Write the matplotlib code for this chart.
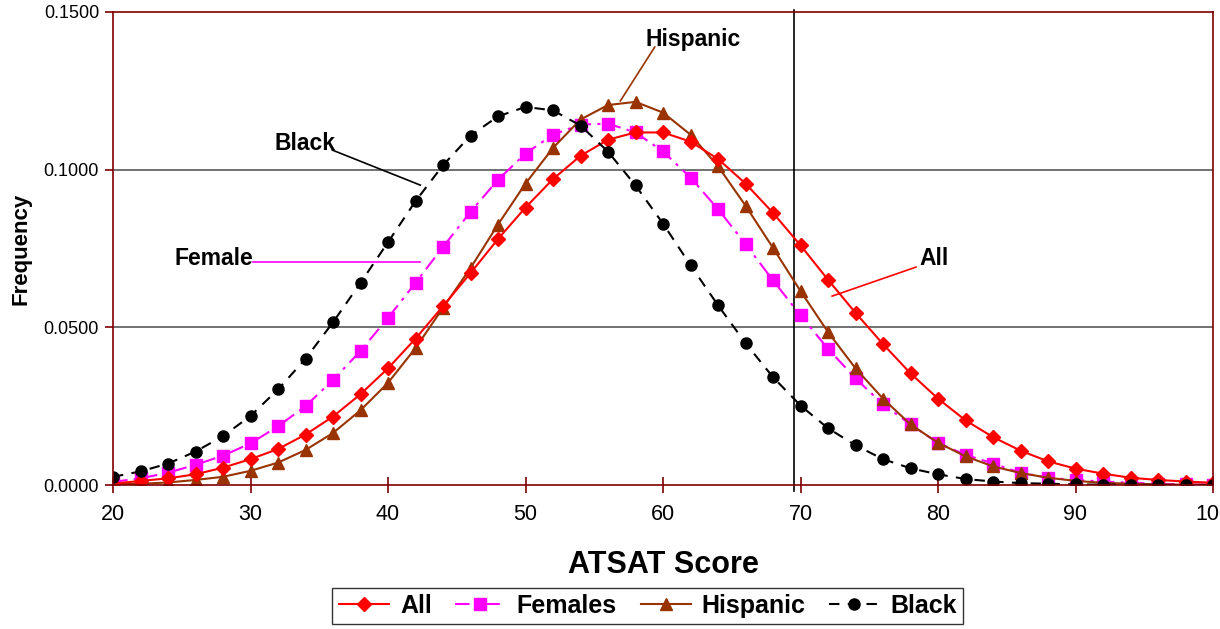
import matplotlib
matplotlib.use("Agg")
import matplotlib.pyplot as plt
import matplotlib.transforms as mtransforms
import numpy as np

plt.rcParams['font.family'] = ['Liberation Sans', 'DejaVu Sans']

scores = list(range(20, 101, 2))

all_freq = [0.0004, 0.0013, 0.0021, 0.0034, 0.0055, 0.0082, 0.0114, 0.0160, 0.0217, 0.0288,
            0.0370, 0.0464, 0.0567, 0.0672, 0.0780, 0.0880, 0.0970, 0.1044, 0.1095, 0.1118,
            0.1118, 0.1089, 0.1034, 0.0956, 0.0863, 0.0760, 0.0651, 0.0546, 0.0447, 0.0354,
            0.0274, 0.0205, 0.0152, 0.0109, 0.0075, 0.0052, 0.0036, 0.0023, 0.0016, 0.0011,
            0.0007]
females_freq = [0.0010, 0.0021, 0.0039, 0.0064, 0.0093, 0.0132, 0.0186, 0.0250, 0.0333, 0.0425,
                0.0530, 0.0641, 0.0755, 0.0866, 0.0968, 0.1051, 0.1111, 0.1143, 0.1146, 0.1118,
                0.1058, 0.0975, 0.0875, 0.0764, 0.0649, 0.0538, 0.0432, 0.0338, 0.0256, 0.0192,
                0.0133, 0.0096, 0.0068, 0.0039, 0.0023, 0.0016, 0.0011, 0.0007, 0.0004, 0.0002,
                0.0001]
hispanic_freq = [0.0002, 0.0004, 0.0008, 0.0016, 0.0026, 0.0045, 0.0071, 0.0111, 0.0165, 0.0237,
                 0.0324, 0.0434, 0.0562, 0.0688, 0.0826, 0.0956, 0.1069, 0.1159, 0.1205, 0.1215,
                 0.1181, 0.1111, 0.1011, 0.0886, 0.0752, 0.0615, 0.0485, 0.0370, 0.0274, 0.0192,
                 0.0134, 0.0091, 0.0059, 0.0038, 0.0023, 0.0013, 0.0007, 0.0004, 0.0002, 0.0001,
                 0.0001]
black_freq = [0.0026, 0.0043, 0.0068, 0.0106, 0.0155, 0.0219, 0.0303, 0.0400, 0.0516, 0.0641,
              0.0770, 0.0900, 0.1014, 0.1108, 0.1169, 0.1199, 0.1188, 0.1140, 0.1057, 0.0950,
              0.0829, 0.0697, 0.0570, 0.0450, 0.0342, 0.0252, 0.0180, 0.0126, 0.0082, 0.0053,
              0.0034, 0.0019, 0.0011, 0.0006, 0.0004, 0.0002, 0.0001, 0.0001, 0.0000, 0.0000,
              0.0000]

series_labels = ["All", "Females", "Hispanic", "Black"]
x_ticks = [20, 30, 40, 50, 60, 70, 80, 90, 100]
y_ticks = [0.0, 0.05, 0.10, 0.15]
cutoff_score = 69.5

RED = "#FF0000"
MAG = "#FF00FF"
BROWN = "#993300"
DARKRED = "#800000"

fig = plt.figure(figsize=(12.2, 6.29), dpi=100)
ax = fig.add_axes([113/1220, 1 - 485/629, 1100/1220, 473/629])

ax.set_xlim(20, 100)
ax.set_ylim(0, 0.15)

# grid lines
for yv in y_ticks[1:3]:
    ax.axhline(yv, color="#666666", lw=1.3, zorder=1)

l1, = ax.plot(scores, all_freq, color=RED, lw=1.5, marker="D", ms=7.5,
              mfc=RED, mec=RED, zorder=4, label=series_labels[0])
l2, = ax.plot(scores, females_freq, color=MAG, lw=1.5, marker="s", ms=8.5,
              mfc=MAG, mec=MAG, dashes=(7, 3, 1.5, 3), zorder=3, label=series_labels[1])
l3, = ax.plot(scores, hispanic_freq, color=BROWN, lw=1.5, marker="^", ms=9,
              mfc=BROWN, mec=BROWN, zorder=3, label=series_labels[2])
l4, = ax.plot(scores, black_freq, color="black", lw=1.5, marker="o", ms=8,
              mfc="black", mec="black", dashes=(5, 4), zorder=5, label=series_labels[3])

# vertical cutoff line
trans = mtransforms.blended_transform_factory(ax.transData, ax.transAxes)
ax.plot([cutoff_score, cutoff_score], [-0.012, 1.004], transform=trans, color="black",
        lw=1.2, clip_on=False, zorder=2)

for sp in ax.spines.values():
    sp.set_color(DARKRED)
    sp.set_linewidth(1.2)
    sp.set_zorder(6)

ax.set_xticks(x_ticks)
ax.set_xticklabels([str(v) for v in x_ticks], fontsize=15.5)
ax.set_yticks(y_ticks)
ax.set_yticklabels(["%.4f" % v for v in y_ticks], fontsize=13)
ax.tick_params(axis="x", direction="inout", length=12, width=1.2, color=DARKRED, pad=8)
ax.tick_params(axis="y", direction="out", length=6, width=1.2, color=DARKRED, pad=4)

ax.set_xlabel("ATSAT Score", fontsize=22, fontweight="bold", labelpad=18)
ax.set_ylabel("Frequency", fontsize=16, fontweight="bold", labelpad=9)

# annotations
ann_kw = dict(fontsize=16.5, fontweight="bold", ha="center", va="center", zorder=7)
ax.text(34.0, 0.1084, "Black", **ann_kw)
ax.plot([35.96, 42.35], [0.1062, 0.0951], color="black", lw=1.2, zorder=7)
ax.text(27.3, 0.0717, "Female", **ann_kw)
ax.plot([30.2, 42.35], [0.0707, 0.0707], color=MAG, lw=1.2, zorder=7)
ax.text(62.2, 0.1414, "Hispanic", **ann_kw)
ax.plot([59.4, 56.9], [0.1389, 0.1218], color=BROWN, lw=1.2, zorder=7)
ax.text(79.7, 0.0717, "All", **ann_kw)
ax.plot([78.4, 72.3], [0.0691, 0.0599], color=RED, lw=1.2, zorder=7)

leg = fig.legend(handles=[l1, l2, l3, l4], labels=series_labels, ncol=4,
                 loc="center", bbox_to_anchor=(648/1220, 1 - 606/629),
                 prop={"weight": "bold", "size": 18}, frameon=True, fancybox=False,
                 edgecolor="black", handlelength=2.0, handletextpad=0.45,
                 columnspacing=0.95, borderpad=0.25, numpoints=1)
leg.get_frame().set_linewidth(1.0)

fig.savefig("out.png", dpi=100)
